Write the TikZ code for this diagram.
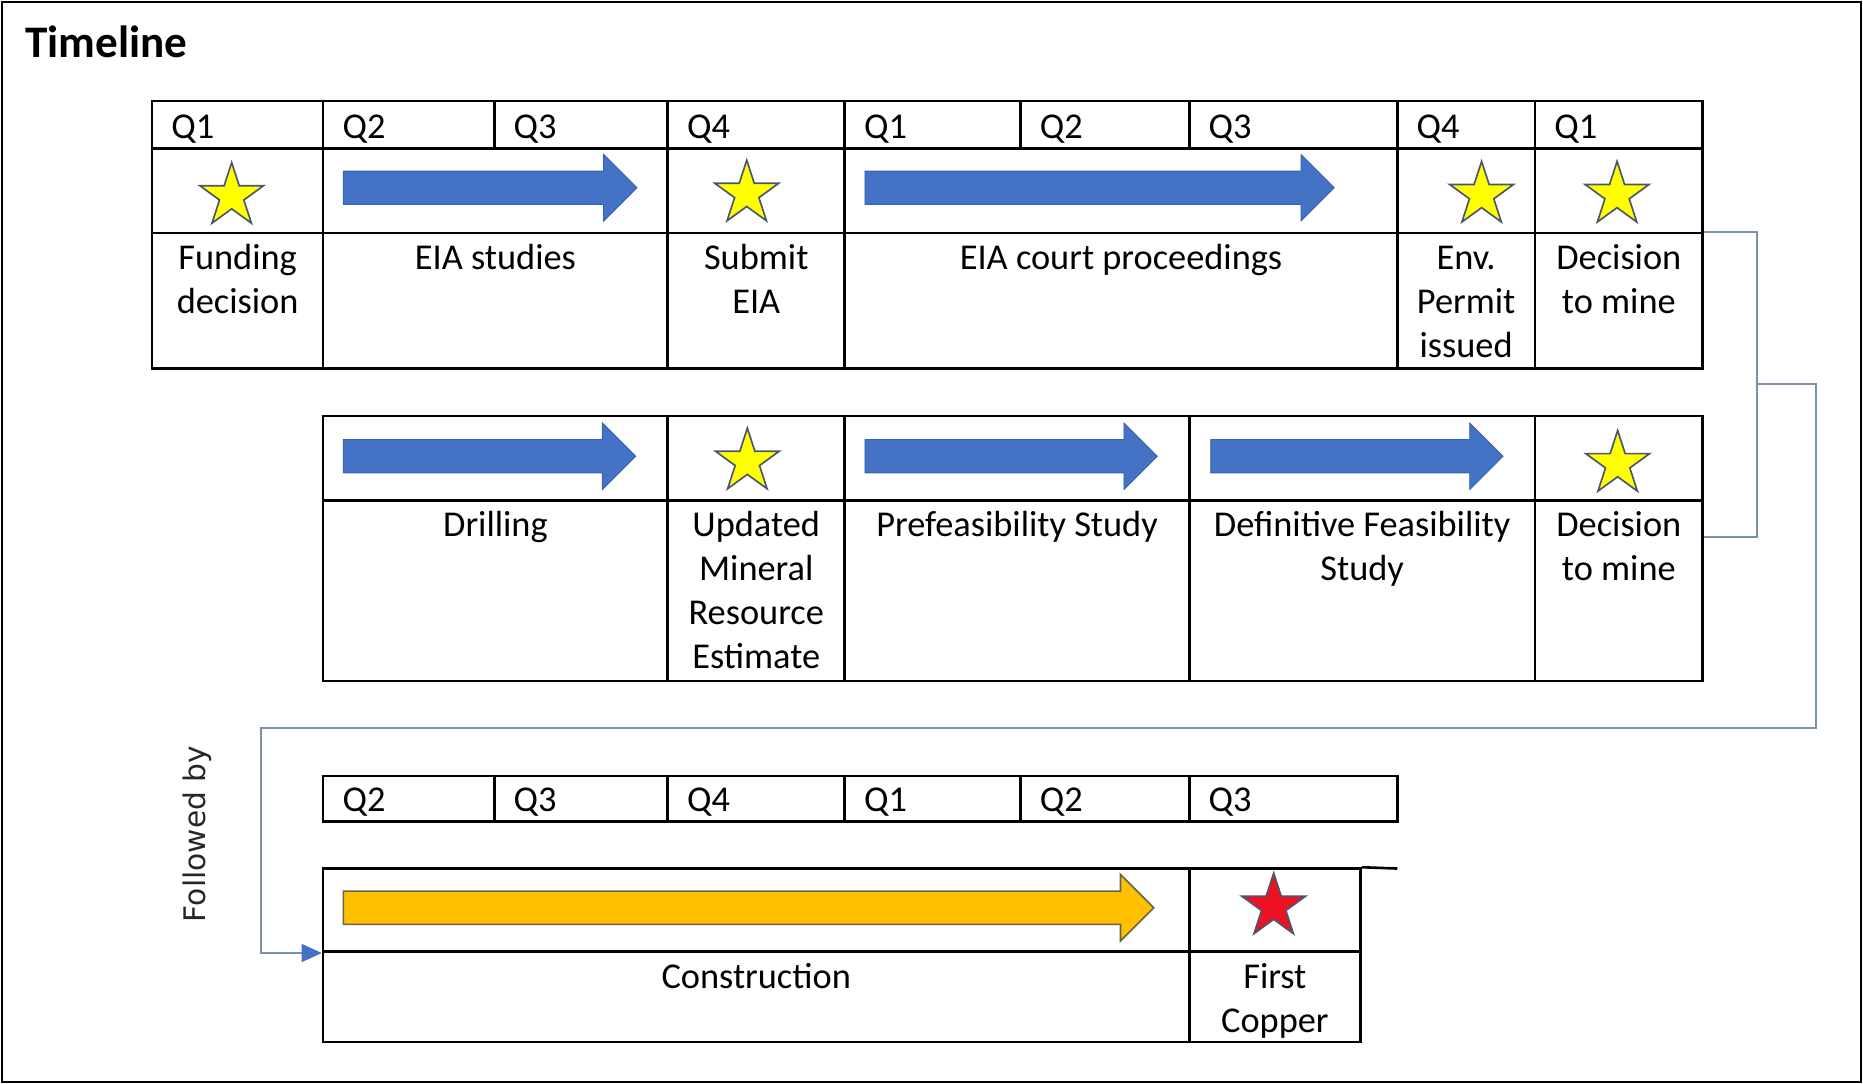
\documentclass[tikz,border=0pt]{standalone}
\usepackage{fontspec}
\setmainfont{Carlito}
\newfontfamily\sidefont{DejaVu Sans}
\usetikzlibrary{shapes.geometric,arrows.meta,fit,calc}

\definecolor{barblue}{HTML}{4472C4}
\definecolor{baredge}{HTML}{3A63AE}
\definecolor{staryellow}{HTML}{FFFF00}
\definecolor{starred}{HTML}{EE1122}
\definecolor{staredge}{HTML}{4A5670}
\definecolor{buildorange}{HTML}{FFC000}
\definecolor{buildedge}{HTML}{6B6247}
\definecolor{linkgray}{HTML}{7D8FAE}

\tikzset{
  cell/.style={draw, line width=1.1pt, inner sep=0pt},
  qlbl/.style={anchor=base west, inner sep=0pt},
  lbl/.style={anchor=north, align=center, inner sep=0pt, yshift=-2.7pt},
  milestone/.style={star, star points=5, star point ratio=2.618,
    minimum size=28.2pt, inner sep=0pt, fill=staryellow, draw=staredge,
    line width=0.7pt},
  bararrow/.style={fill=barblue, draw=baredge, line width=0.4pt},
  buildarrow/.style={fill=buildorange, draw=buildedge, line width=0.7pt},
  conn/.style={draw=linkgray, line width=0.9pt}
}

% block arrow: [style]{x start}{x tip}{y middle}
\newcommand{\blockarrow}[4][bararrow]{%
  \filldraw[#1] (#2,#4-14) -- (#3-28,#4-14) -- (#3-28,#4-28) -- (#3,#4)
    -- (#3-28,#4+28) -- (#3-28,#4+14) -- (#2,#4+14) -- cycle;}

\begin{document}
\begin{tikzpicture}[x=0.5pt, y=-0.5pt, font=\fontsize{15.3}{18.5}\selectfont]
    \useasboundingbox (0,0) rectangle (1568,912);
    \draw[line width=1pt] (1.5,1.5) rectangle (1566.5,910.5);
    \node[qlbl, font=\bfseries\fontsize{19}{23}\selectfont] (title) at (21,48) {Timeline};

    % first year block
    \node[cell, fit={(128,85) (272,125)}] (h1) {};   \node[qlbl] (q1) at ([xshift=8.5pt,yshift=4.6pt]h1.south west) {Q1};
    \node[cell, fit={(272,85) (416,125)}] (h2) {};   \node[qlbl] (q2) at ([xshift=8.5pt,yshift=4.6pt]h2.south west) {Q2};
    \node[cell, fit={(416,85) (562,125)}] (h3) {};   \node[qlbl] (q3) at ([xshift=8.5pt,yshift=4.6pt]h3.south west) {Q3};
    \node[cell, fit={(562,85) (711,125)}] (h4) {};   \node[qlbl] (q4) at ([xshift=8.5pt,yshift=4.6pt]h4.south west) {Q4};
    \node[cell, fit={(711,85) (859,125)}] (h5) {};   \node[qlbl] (q5) at ([xshift=8.5pt,yshift=4.6pt]h5.south west) {Q1};
    \node[cell, fit={(859,85) (1001,125)}] (h6) {};  \node[qlbl] (q6) at ([xshift=8.5pt,yshift=4.6pt]h6.south west) {Q2};
    \node[cell, fit={(1001,85) (1176,125)}] (h7) {}; \node[qlbl] (q7) at ([xshift=8.5pt,yshift=4.6pt]h7.south west) {Q3};
    \node[cell, fit={(1176,85) (1292,125)}] (h8) {}; \node[qlbl] (q8) at ([xshift=8.5pt,yshift=4.6pt]h8.south west) {Q4};
    \node[cell, fit={(1292,85) (1433,125)}] (h9) {}; \node[qlbl] (q9) at ([xshift=8.5pt,yshift=4.6pt]h9.south west) {Q1};

    \node[cell, fit={(128,125) (272,196)}] (fundA) {};    \node[cell, fit={(128,196) (272,310)}] (fundT) {};
    \node[cell, fit={(272,125) (562,196)}] (eiaA) {};     \node[cell, fit={(272,196) (562,310)}] (eiaT) {};
    \node[cell, fit={(562,125) (711,196)}] (subA) {};     \node[cell, fit={(562,196) (711,310)}] (subT) {};
    \node[cell, fit={(711,125) (1176,196)}] (courtA) {};  \node[cell, fit={(711,196) (1176,310)}] (courtT) {};
    \node[cell, fit={(1176,125) (1292,196)}] (permA) {};  \node[cell, fit={(1176,196) (1292,310)}] (permT) {};
    \node[cell, fit={(1292,125) (1433,196)}] (dec1A) {};  \node[cell, fit={(1292,196) (1433,310)}] (dec1T) {};

    \node[milestone] (s1) at (195,165) {};
    \blockarrow{289}{536}{158}
    \node[milestone] (s2) at (628.5,163) {};
    \blockarrow{728}{1123}{158}
    \node[milestone] (s3) at (1247,164) {};
    \node[milestone] (s4) at (1361,164) {};

    \node[lbl] (tFund) at (fundT.north) {\strut Funding\\decision};
    \node[lbl] (tEia) at (eiaT.north) {\strut EIA studies};
    \node[lbl] (tSub) at (subT.north) {\strut Submit\\EIA};
    \node[lbl] (tCourt) at (courtT.north) {\strut EIA court proceedings};
    \node[lbl] (tPerm) at (permT.north) {\strut Env.\\Permit\\issued};
    \node[lbl] (tDec1) at (dec1T.north) {\strut Decision\\to mine};

    % studies block
    \node[cell, fit={(272,350) (562,421)}] (drillA) {};   \node[cell, fit={(272,421) (562,573)}] (drillT) {};
    \node[cell, fit={(562,350) (711,421)}] (mreA) {};     \node[cell, fit={(562,421) (711,573)}] (mreT) {};
    \node[cell, fit={(711,350) (1001,421)}] (pfsA) {};    \node[cell, fit={(711,421) (1001,573)}] (pfsT) {};
    \node[cell, fit={(1001,350) (1292,421)}] (dfsA) {};   \node[cell, fit={(1001,421) (1292,573)}] (dfsT) {};
    \node[cell, fit={(1292,350) (1433,421)}] (dec2A) {};  \node[cell, fit={(1292,421) (1433,573)}] (dec2T) {};

    \blockarrow{289}{535}{384}
    \node[milestone] (s5) at (629,388.5) {};
    \blockarrow{728}{974}{384}
    \blockarrow{1019}{1265}{384}
    \node[milestone] (s6) at (1361.5,390.5) {};

    \node[lbl] (tDrill) at (drillT.north) {\strut Drilling};
    \node[lbl] (tMre) at (mreT.north) {\strut Updated\\Mineral\\Resource\\Estimate};
    \node[lbl] (tPfs) at (pfsT.north) {\strut Prefeasibility Study};
    \node[lbl] (tDfs) at (dfsT.north) {\strut Definitive Feasibility\\Study};
    \node[lbl] (tDec2) at (dec2T.north) {\strut Decision\\to mine};

    % construction block
    \node[cell, fit={(272,653) (416,691.5)}] (k1) {};   \node[qlbl] (r1) at ([xshift=8.5pt,yshift=4.6pt]k1.south west) {Q2};
    \node[cell, fit={(416,653) (562,691.5)}] (k2) {};   \node[qlbl] (r2) at ([xshift=8.5pt,yshift=4.6pt]k2.south west) {Q3};
    \node[cell, fit={(562,653) (711,691.5)}] (k3) {};   \node[qlbl] (r3) at ([xshift=8.5pt,yshift=4.6pt]k3.south west) {Q4};
    \node[cell, fit={(711,653) (859,691.5)}] (k4) {};   \node[qlbl] (r4) at ([xshift=8.5pt,yshift=4.6pt]k4.south west) {Q1};
    \node[cell, fit={(859,653) (1001,691.5)}] (k5) {};  \node[qlbl] (r5) at ([xshift=8.5pt,yshift=4.6pt]k5.south west) {Q2};
    \node[cell, fit={(1001,653) (1176,691.5)}] (k6) {}; \node[qlbl] (r6) at ([xshift=8.5pt,yshift=4.6pt]k6.south west) {Q3};

    \node[cell, fit={(272,731) (1001,801)}] (consA) {};  \node[cell, fit={(272,801) (1001,877)}] (consT) {};
    \node[cell, fit={(1001,731) (1145,801)}] (fcA) {};   \node[cell, fit={(1001,801) (1145,877)}] (fcT) {};
    \draw[line width=1.1pt] (fcA.north east) -- (1176,731);

    \blockarrow[buildarrow]{289}{971}{764}
    \node[milestone, fill=starred] (s7) at (1072,763) {};

    \node[lbl] (tCons) at (consT.north) {\strut Construction};
    \node[lbl] (tFc) at (fcT.north) {\strut First\\Copper};

    \node[rotate=90, text=black!85, font=\sidefont\fontsize{12.5}{15}\selectfont] (follow) at (166,702) {Followed by};

    % links
    \draw[conn] (dec1T.north east) -- ++(45,0) |- node[coordinate, pos=0.25] (split) {} ($(dec2T.north east)+(0,32)$);
    \coordinate (back) at (220,613);
    \draw[conn, -{Triangle[length=8.5pt, width=7.5pt, color=barblue]}] (split) -- ++(49,0) |- (back) |- (consA.south west);
\end{tikzpicture}
\end{document}
